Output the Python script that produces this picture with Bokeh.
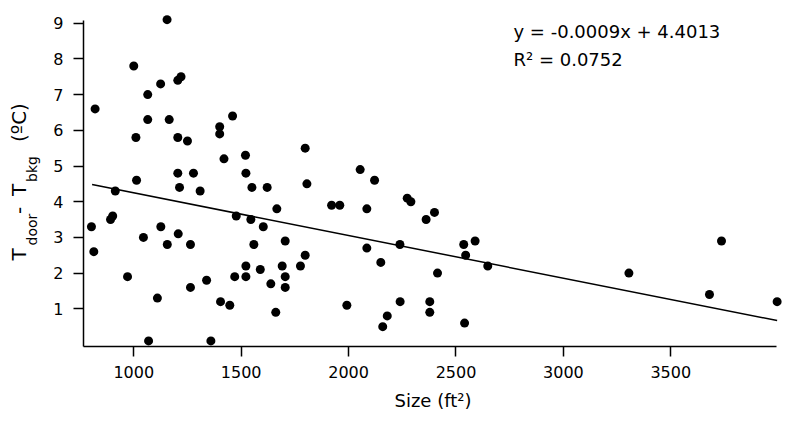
from bokeh.plotting import figure
from bokeh.models import Label, FixedTicker, Range1d, ColumnDataSource
from bokeh.layouts import row
from bokeh.embed import file_html
from bokeh.resources import INLINE

size_ft2 = [820, 1155, 1000, 1125, 1065, 1205, 1220, 1065, 1165, 1460,
            1400, 1400, 1010, 1205, 1250, 1420, 1520, 1013, 1205, 1278,
            1213, 1309, 1522, 1550, 1621, 914, 1798, 1806, 2054, 2121,
            1666, 1921, 1959, 2085, 892, 902, 1477, 1545, 803, 814,
            971, 1045, 1069, 1110, 1126, 1156, 1207, 1264, 1264, 1339,
            1359, 1404, 1447, 1470, 1522, 1522, 1559, 1589, 1603, 1638,
            1661, 1691, 1705, 1705, 1705, 1776, 1798, 1992, 2085, 2150,
            2159, 2180, 2239, 2240, 2273, 2290, 2400, 2361, 2536, 2589,
            2545, 2648, 2414, 2378, 2378, 2540, 3305, 3736, 3680, 3995]
dT = [6.6, 9.1, 7.8, 7.3, 7.0, 7.4, 7.5, 6.3, 6.3, 6.4,
      6.1, 5.9, 5.8, 5.8, 5.7, 5.2, 5.3, 4.6, 4.8, 4.8,
      4.4, 4.3, 4.8, 4.4, 4.4, 4.3, 5.5, 4.5, 4.9, 4.6,
      3.8, 3.9, 3.9, 3.8, 3.5, 3.6, 3.6, 3.5, 3.3, 2.6,
      1.9, 3.0, 0.1, 1.3, 3.3, 2.8, 3.1, 2.8, 1.6, 1.8,
      0.1, 1.2, 1.1, 1.9, 2.2, 1.9, 2.8, 2.1, 3.3, 1.7,
      0.9, 2.2, 2.9, 1.9, 1.6, 2.2, 2.5, 1.1, 2.7, 2.3,
      0.5, 0.8, 2.8, 1.2, 4.1, 4.0, 3.7, 3.5, 2.8, 2.9,
      2.5, 2.2, 2.0, 1.2, 0.9, 0.6, 2.0, 2.9, 1.4, 1.2]

fit_x = [806, 3995]
fit_y = [4.48, 0.67]

x_ticks = [1000, 1500, 2000, 2500, 3000, 3500]
y_ticks = [1, 2, 3, 4, 5, 6, 7, 8, 9]

eq_text = "y = -0.0009x + 4.4013"
r2_text = "R\u00b2 = 0.0752"
x_label = "Size (ft\u00b2)"
y_label_parts = ["T", "door", " - ", "T", "bkg", "(\u00baC)"]
y_label_is_sub = [False, True, False, False, True, False]

FONT = "DejaVu Sans"
H = 411
LW = 45  # width of the strip holding the rotated y-axis title

# ---- main plot ----
p = figure(width=737, height=H, output_backend="svg", toolbar_location=None,
           x_range=Range1d(766, 4020), y_range=Range1d(-0.056, 9.30),
           frame_width=699, frame_height=334,
           min_border_left=83 - LW, min_border_right=0, min_border_top=12, min_border_bottom=65)
p.outline_line_color = None
p.grid.visible = False
p.background_fill_color = "white"
p.border_fill_color = "white"

src = ColumnDataSource(dict(x=size_ft2, y=dT))
p.scatter("x", "y", source=src, size=9, fill_color="black", line_color=None)
p.line(fit_x, fit_y, line_color="black", line_width=1.5)

for ax in (p.xaxis[0], p.yaxis[0]):
    ax.axis_line_width = 1.5
    ax.axis_line_color = "black"
    ax.major_tick_line_width = 1.5
    ax.major_tick_line_color = "black"
    ax.major_tick_out = 10
    ax.major_tick_in = 0
    ax.minor_tick_out = 0
    ax.minor_tick_in = 0
    ax.major_label_text_font = FONT
    ax.major_label_text_font_size = "16px"
    ax.major_label_text_color = "black"

p.xaxis[0].ticker = FixedTicker(ticks=x_ticks)
p.yaxis[0].ticker = FixedTicker(ticks=y_ticks)
p.xaxis[0].bounds = (766, 3993)
p.yaxis[0].bounds = (-0.056, 9.08)
p.xaxis[0].major_label_standoff = 9
p.yaxis[0].major_label_standoff = 10
p.xaxis[0].axis_label = x_label
p.xaxis[0].axis_label_text_font = FONT
p.xaxis[0].axis_label_text_font_size = "18px"
p.xaxis[0].axis_label_text_font_style = "normal"
p.xaxis[0].axis_label_text_color = "black"
p.xaxis[0].axis_label_standoff = 9

# equation annotation (frame-relative screen coordinates, anchored at text middle)
p.add_layout(Label(x=430, y=315, x_units="screen", y_units="screen", text=eq_text,
                   text_font=FONT, text_font_size="18px", text_color="black",
                   text_baseline="middle", text_align="left"))
p.add_layout(Label(x=430, y=287.5, x_units="screen", y_units="screen", text=r2_text,
                   text_font=FONT, text_font_size="18px", text_color="black",
                   text_baseline="middle", text_align="left"))

# ---- strip with the rotated y-axis title (with subscripts) ----
t = figure(width=LW, height=H, output_backend="svg", toolbar_location=None,
           x_range=Range1d(0, LW), y_range=Range1d(0, H),
           frame_width=LW, frame_height=H,
           min_border_left=0, min_border_right=0, min_border_top=0, min_border_bottom=0,
           x_axis_type=None, y_axis_type=None)
t.outline_line_color = None
t.grid.visible = False
t.background_fill_color = "white"
t.border_fill_color = "white"

starts = [163, 178, 209.5, 227.5, 241.5, 281.4]
for txt, sub, y0 in zip(y_label_parts, y_label_is_sub, starts):
    t.add_layout(Label(x=31 if sub else 18.5, y=y0, x_units="screen", y_units="screen",
                       text=txt, angle=1.5707963, angle_units="rad",
                       text_font=FONT, text_font_size="14px" if sub else "20px",
                       text_color="black", text_baseline="middle", text_align="left"))

layout = row(t, p, spacing=0)
open("out.html", "w").write(file_html(layout, INLINE))
